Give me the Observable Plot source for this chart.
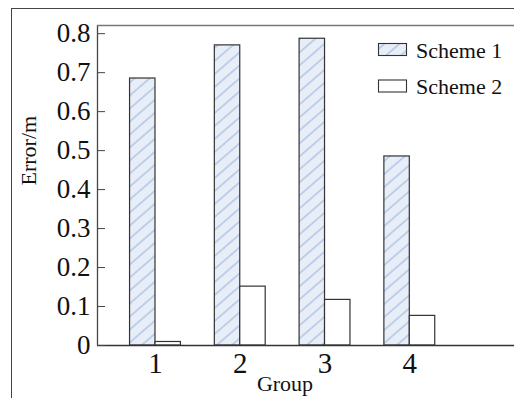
<!DOCTYPE html>
<html><head><meta charset="utf-8">
<script src="https://cdn.jsdelivr.net/npm/d3@7"></script>
<script src="https://cdn.jsdelivr.net/npm/@observablehq/plot@0.6"></script>
<style>
html,body{margin:0;padding:0;background:#fff;overflow:hidden;}
#wrap{position:relative;width:514px;height:401px;font-family:"Liberation Serif","Times New Roman",serif;}
#outer{position:absolute;left:11px;top:8px;width:503px;height:390px;border-top:1.5px solid #444;border-left:1.5px solid #444;box-sizing:border-box;}
#chart{position:absolute;left:0;top:0;}
#legend{position:absolute;left:0;top:0;}
</style></head>
<body>
<svg width="0" height="0" style="position:absolute">
<defs>
<pattern id="hatch" patternUnits="userSpaceOnUse" width="15" height="13">
<rect width="15" height="13" fill="#e8eef8"/>
<path d="M-1.5,14.3 L16.5,-1.3 M-1.5,1.3 L1.5,-1.3 M13.5,14.3 L16.5,11.7" stroke="#bccde9" stroke-width="1.8" fill="none"/>
</pattern></defs></svg>
<div id="wrap">
<div id="outer"></div>
<div id="chart"></div>
<svg id="legend" width="514" height="120"></svg>
</div>
<script>
const groups = [1, 2, 3, 4];
const scheme1 = [0.685, 0.770, 0.787, 0.485];
const scheme2 = [0.009, 0.151, 0.117, 0.076];
const seriesNames = ["Scheme 1", "Scheme 2"];
const yTicks = [0, 0.1, 0.2, 0.3, 0.4, 0.5, 0.6, 0.7, 0.8];
const xTicks = [1, 2, 3, 4];
const xLabel = "Group";
const yLabel = "Error/m";

const BAR = 0.3;
const xDomain = [0.316, 5.235];
const yDomain = [0, 0.821];
const FONT = "Liberation Serif, Times New Roman, serif";

const chart = Plot.plot({
  width: 514, height: 401,
  marginLeft: 97, marginTop: 25, marginRight: 0, marginBottom: 56,
  style: {fontFamily: FONT, background: "transparent", color: "#111"},
  x: {domain: xDomain},
  y: {domain: yDomain},
  marks: [
    Plot.rectY(groups, {x1: d => d - BAR, x2: d => d, y1: 0, y2: (d, i) => scheme1[i], fill: "url(#hatch)", stroke: "#333", strokeWidth: 1.2}),
    Plot.rectY(groups, {x1: d => d, x2: d => d + BAR, y1: 0, y2: (d, i) => scheme2[i], fill: "#fff", stroke: "#333", strokeWidth: 1.2}),
    Plot.ruleY([0], {stroke: "#333", strokeWidth: 1.3}),
    Plot.ruleX([xDomain[0]], {stroke: "#444", strokeWidth: 1.3}),
    Plot.ruleY([yDomain[1]], {stroke: "#777", strokeWidth: 1.3}),
    Plot.axisY({ticks: yTicks, tickSize: -8, tickPadding: 15, fontSize: 27, stroke: "#444",
      tickFormat: d => d === 0 ? "0" : d.toFixed(1), label: null}),
    Plot.axisX({ticks: xTicks, tickSize: 0, tickPadding: 7, fontSize: 29, tickFormat: d => String(d), label: null}),
    Plot.text([yLabel], {frameAnchor: "left", rotate: -90, dx: -69, fontSize: 22, fill: "#111"}),
    Plot.text([xLabel], {frameAnchor: "bottom", dx: -21, dy: 45, fontSize: 22, fill: "#111"})
  ]
});
document.getElementById("chart").append(chart);

// legend
const lg = d3.select("#legend");
const fills = ["url(#hatch)", "#fff"];
const rowsY = [49.5, 86];
seriesNames.forEach((name, i) => {
  lg.append("rect").attr("x", 378.5).attr("y", rowsY[i] - 6).attr("width", 28).attr("height", 12)
    .attr("fill", fills[i]).attr("stroke", "#333").attr("stroke-width", 1.1);
  lg.append("text").attr("x", 416).attr("y", rowsY[i] + 8).attr("font-family", FONT)
    .attr("font-size", 22).attr("fill", "#111").text(name);
});
</script>
</body></html>
